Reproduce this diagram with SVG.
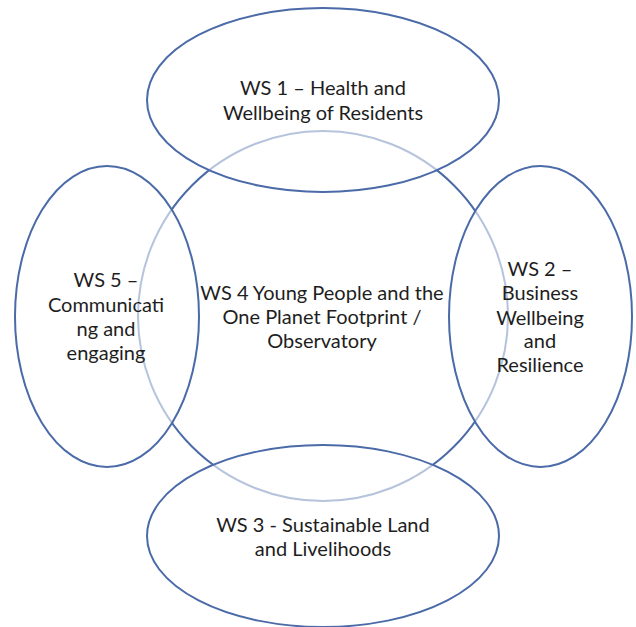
<svg xmlns="http://www.w3.org/2000/svg" width="636" height="627" viewBox="0 0 636 627">
<style>
.bg{fill:#ffffff}
.ring{fill:none;stroke:#4a6aa8;stroke-width:2}
.node{fill:#ffffff;fill-opacity:0.6;stroke:#4a6aa8;stroke-width:2}
text{font-family:Lato,"Open Sans","Liberation Sans",sans-serif;font-size:20px;fill:#1e1e1e;text-anchor:middle;dominant-baseline:central}
</style>
<rect class="bg" x="0" y="0" width="636" height="627"/>
<g id="ws4">
<circle class="ring" cx="323" cy="316" r="185"/>
</g>
<g id="ws1">
<ellipse class="node" cx="323" cy="100" rx="176" ry="92"/>
<text x="323" y="87">WS 1 – Health and</text>
<text x="323" y="112">Wellbeing of Residents</text>
</g>
<g id="ws5">
<ellipse class="node" cx="107" cy="316.5" rx="92" ry="150.5"/>
<text x="106" y="279">WS 5 –</text>
<text x="106" y="304">Communicati</text>
<text x="106" y="328">ng and</text>
<text x="106" y="352">engaging</text>
</g>
<g id="ws2">
<ellipse class="node" cx="540.5" cy="316.5" rx="91.5" ry="150.5"/>
<text x="540" y="268">WS 2 –</text>
<text x="540" y="292">Business</text>
<text x="540" y="317">Wellbeing</text>
<text x="540" y="340">and</text>
<text x="540" y="364">Resilience</text>
</g>
<g id="ws3">
<ellipse class="node" cx="323" cy="536" rx="176" ry="91"/>
<text x="323" y="524">WS 3 - Sustainable Land</text>
<text x="323" y="548">and Livelihoods</text>
</g>
<g id="ws4-label">
<text x="322" y="292">WS 4 Young People and the</text>
<text x="322" y="316">One Planet Footprint /</text>
<text x="322" y="340">Observatory</text>
</g>
<g id="connectors"></g>
</svg>
